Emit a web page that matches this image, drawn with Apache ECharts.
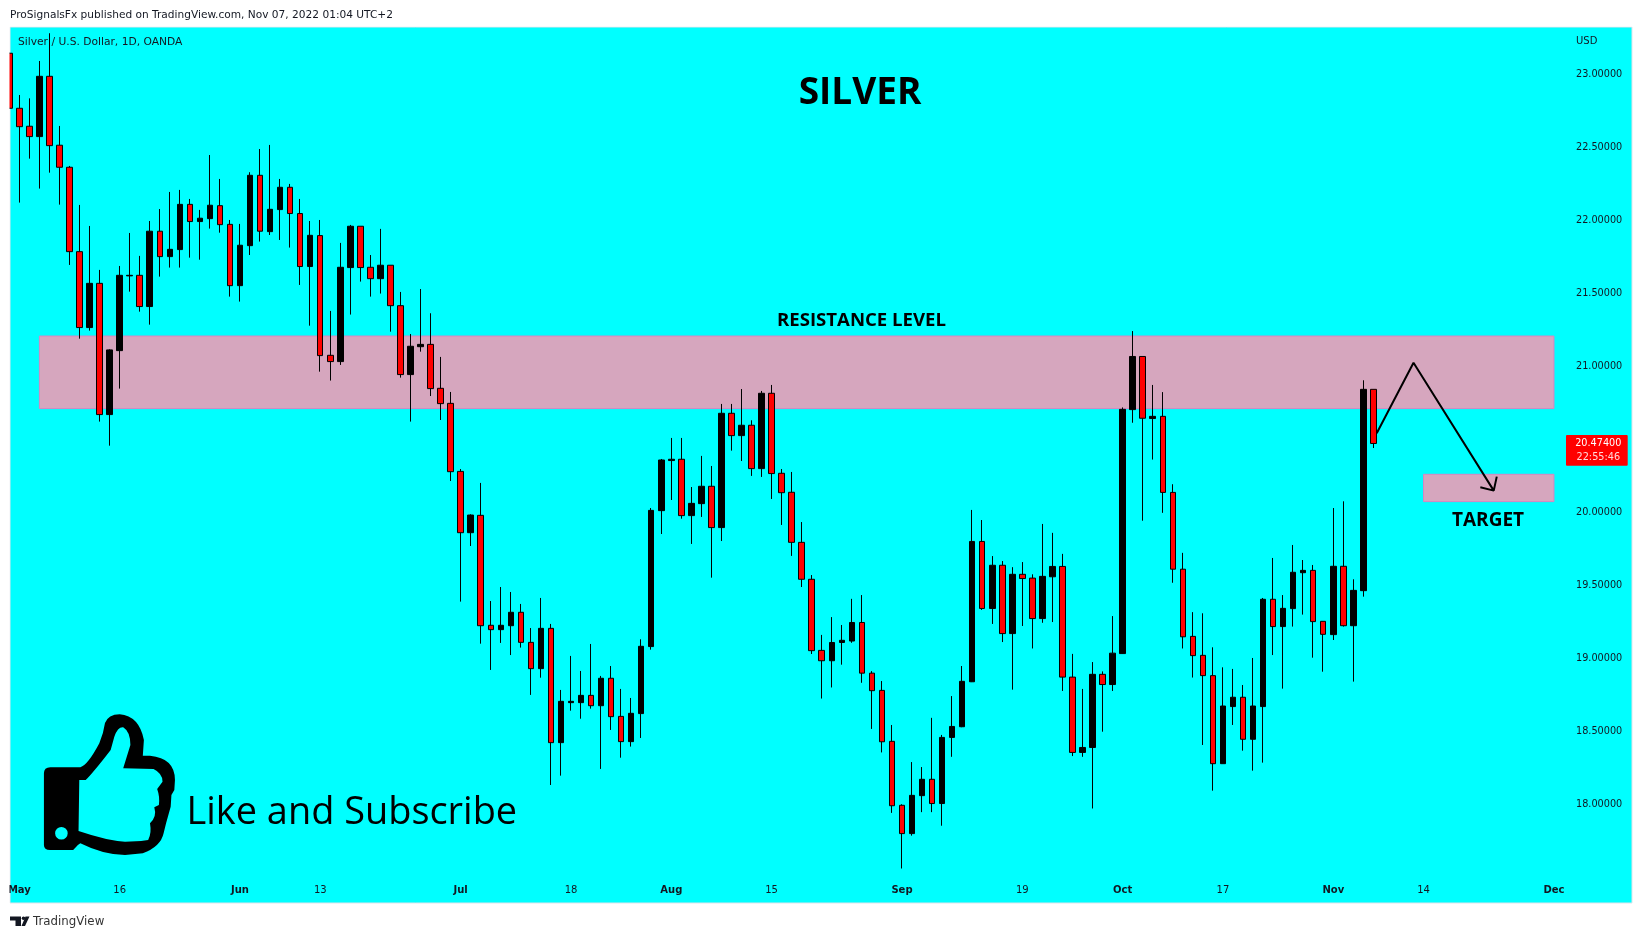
<!DOCTYPE html>
<html><head><meta charset="utf-8">
<style>html,body{margin:0;padding:0;background:#fff}#c{width:1642px;height:939px}</style>
<script src="https://cdn.jsdelivr.net/npm/echarts@6/dist/echarts.min.js"></script>
</head><body><div id="c"></div>
<script>
const opens = [23.147,22.770,22.647,22.576,22.989,22.517,22.366,21.788,21.268,21.571,
20.672,21.110,21.622,21.626,21.412,21.928,21.754,21.802,22.112,21.994,
22.014,22.103,21.975,21.555,21.829,22.311,21.925,22.076,22.229,22.049,
21.686,21.898,21.078,21.035,21.679,21.962,21.681,21.603,21.695,21.418,
20.946,21.137,21.153,20.852,20.749,20.283,19.863,19.982,19.229,19.199,
19.226,19.318,19.112,18.932,19.208,18.425,18.699,18.699,18.749,18.678,
18.866,18.605,18.432,18.624,19.083,20.014,20.357,20.366,19.980,20.062,
20.181,19.898,20.681,20.528,20.599,20.302,20.818,20.270,20.140,19.797,
19.544,19.057,18.986,19.111,19.121,19.248,18.901,18.783,18.434,17.996,
17.802,18.062,18.174,18.008,18.461,18.534,18.842,19.803,19.344,19.640,
19.172,19.578,19.552,19.275,19.561,19.632,18.874,18.358,18.392,18.893,
18.823,19.035,20.706,21.070,20.645,20.660,20.139,19.613,19.153,19.023,
18.884,18.281,18.672,18.736,18.448,18.672,19.407,19.220,19.343,19.589,
19.605,19.256,19.165,19.633,19.226,19.466,20.845];
const closes = [22.770,22.644,22.576,22.989,22.514,22.366,21.788,21.268,21.571,20.672,
21.115,21.626,21.626,21.412,21.928,21.754,21.804,22.112,21.994,22.017,
22.106,21.973,21.555,21.832,22.311,21.928,22.078,22.229,22.049,21.686,
21.900,21.076,21.035,21.681,21.962,21.679,21.603,21.695,21.418,20.946,
21.140,21.153,20.850,20.747,20.281,19.863,19.984,19.226,19.199,19.229,
19.318,19.112,18.932,19.208,18.425,18.708,18.708,18.749,18.678,18.866,
18.603,18.432,18.626,19.085,20.016,20.361,20.366,19.980,20.064,20.181,
19.898,20.681,20.528,20.599,20.302,20.818,20.268,20.137,19.797,19.544,
19.055,18.986,19.111,19.126,19.248,18.901,18.781,18.431,17.993,17.802,
18.064,18.174,18.008,18.461,18.536,18.845,19.803,19.344,19.640,19.172,
19.578,19.549,19.275,19.564,19.632,18.874,18.358,18.392,18.893,18.823,
19.038,20.708,21.070,20.647,20.660,20.139,19.613,19.150,19.021,18.884,
18.281,18.676,18.736,18.448,18.676,19.407,19.220,19.345,19.592,19.605,
19.254,19.167,19.633,19.226,19.468,20.845,20.474];
const highs = [23.150,22.861,22.838,23.094,23.284,22.649,22.375,22.108,21.964,21.663,
21.119,21.690,21.916,21.759,21.998,22.080,22.197,22.211,22.149,22.074,
22.450,22.286,22.005,21.978,22.332,22.491,22.519,22.286,22.252,22.149,
21.998,22.005,21.382,21.848,21.971,21.962,21.765,21.944,21.695,21.512,
21.224,21.532,21.366,21.067,20.827,20.299,19.989,20.204,19.395,19.491,
19.457,19.375,19.210,19.416,19.238,18.786,19.019,18.916,19.101,18.882,
18.950,18.793,18.731,19.133,20.032,20.368,20.512,20.512,20.176,20.389,
20.320,20.745,20.745,20.847,20.633,20.834,20.875,20.299,20.279,19.936,
19.573,19.163,19.285,19.231,19.410,19.436,18.915,18.847,18.546,18.003,
18.292,18.258,18.595,18.478,18.744,18.950,20.019,19.950,19.703,19.669,
19.627,19.662,19.578,19.923,19.862,19.718,19.033,18.793,18.977,18.913,
19.292,20.721,21.244,21.070,20.875,20.826,20.195,19.725,19.319,19.311,
19.078,18.941,18.930,18.820,19.005,19.416,19.690,19.436,19.779,19.676,
19.642,19.256,20.032,20.078,19.544,20.907,20.845];
const lows = [22.770,22.124,22.425,22.220,22.329,22.110,21.697,21.192,21.247,20.624,
20.459,20.850,21.514,21.377,21.288,21.617,21.679,21.679,21.747,21.733,
21.946,21.918,21.480,21.446,21.765,21.857,21.902,21.868,21.816,21.560,
21.281,20.966,20.905,21.012,21.357,21.583,21.480,21.501,21.240,20.925,
20.624,21.103,20.799,20.635,20.217,19.391,19.772,19.103,18.923,19.108,
19.025,19.076,18.752,18.870,18.135,18.199,18.644,18.589,18.658,18.245,
18.512,18.322,18.398,18.457,19.062,19.854,20.087,19.959,19.786,19.971,
19.555,19.806,20.425,20.354,20.252,20.245,20.094,19.916,19.704,19.491,
19.032,18.727,18.803,18.959,19.109,18.835,18.519,18.358,17.944,17.563,
17.788,17.949,17.949,17.856,18.328,18.531,18.840,19.334,19.238,19.114,
18.788,19.224,19.070,19.246,19.251,18.779,18.333,18.328,17.974,18.500,
18.779,19.033,20.616,19.945,20.364,19.999,19.520,19.070,18.871,18.409,
18.096,18.281,18.546,18.370,18.233,18.288,19.025,18.795,19.220,19.302,
19.007,18.911,19.128,19.220,18.843,19.425,20.443];

const totalSlots = 156;
const tickSlots  = [1,11,23,31,45,56,66,76,89,101,111,121,132,141,154];
const tickLabels = ['May','16','Jun','13','Jul','18','Aug','15','Sep','19','Oct','17','Nov','14','Dec'];
const monthLabels = ['May','Jun','Jul','Aug','Sep','Oct','Nov','Dec'];
const priceTicks = [18,18.5,19,19.5,20,21,21.5,22,22.5,23];

const resistanceZone = {from:3, to:154, top:21.21, bottom:20.713};
const targetZone     = {from:141, to:154, top:20.263, bottom:20.076};
const projectionX = [136.33,140,148,148.3,148,146.66];
const projectionY = [20.544,21.027,20.151,20.247,20.151,20.174];

const categories = Array.from({length:totalSlots},(_,i)=>{
  const k = tickSlots.indexOf(i); return k>=0 ? tickLabels[k] : '';
});
const candles = opens.map((o,i)=>[o,closes[i],lows[i],highs[i]]);
const projection = projectionX.map((x,i)=>[x,projectionY[i]]);

echarts.graphic.registerShape('thumbOuter', echarts.graphic.extendPath(
 'M41 773.3 Q41 767.3 47 767.3 L75 767.3 Q82 765 92.7 743.3 Q96.7 733 98 723 Q101 714.5 111.7 714.3 Q130 716 134.3 740 L133.3 755.7 L140 755.7 Q163.3 758 163.3 780 L162.7 790 L160 795 L159.3 806.7 L155 823.3 L152.7 833.3 Q150 846.7 133.3 853.3 L116.7 855 Q96.7 855 75 843.3 L72.7 845 L68.3 850 L46.7 850 Q41 850 41 845 Z',{}));
echarts.graphic.registerShape('thumbInner', echarts.graphic.extendPath(
 'M74 780 L80 780 Q86.7 773 103.3 750 L106.7 736.7 Q110 726.7 115 727.3 Q121.7 731.7 121.7 745 L115 768.3 L143.3 769 Q151.7 773.3 151.7 781.7 L146.7 789 Q149.3 796.7 148.3 805 L144 807.3 Q146.7 816.7 140 823.3 Q141.7 833.3 138.3 840 L131.7 841 L116.7 841.7 Q100 840.7 73.3 831 Z',{}));
echarts.graphic.registerShape('tvLogo', echarts.graphic.extendPath(
 'M10 916.5 L21 916.5 L21 926 L15.5 926 L15.5 920.5 L10 920.5 Z M25.5 916.5 L29.5 916.5 L25 926 L21.5 926 Z',{}));

const F = '"DejaVu Sans"';
const chart = echarts.init(document.getElementById('c'),null,{renderer:'canvas'});
const txt = (x,y,text,font,fill,align,extra)=>Object.assign({type:'text',z:60,silent:true,x,y,
  style:{text,font,fill:fill||'#131722',align:align||'left',verticalAlign:'middle'}},extra||{});
const sx = 1.0714;
chart.setOption({
  animation:false,
  backgroundColor:'#ffffff',
  grid:{left:4.3,top:1.7,width:1564.68,height:876},
  xAxis:[
    {type:'category',data:categories,boundaryGap:true,
     axisLine:{show:false},axisTick:{show:false},splitLine:{show:false},
     axisLabel:{interval:0,margin:8,hideOverlap:false,showMinLabel:true,showMaxLabel:true,
       fontFamily:F,fontSize:10,color:'#131722',
       formatter:v=>monthLabels.includes(v)?'{b|'+v+'}':v,
       rich:{b:{fontFamily:F,fontSize:10,fontWeight:'bold',color:'#131722'}}}},
    {type:'value',min:-0.5,max:totalSlots-0.5,show:false}
  ],
  yAxis:{type:'value',position:'right',min:17.5,max:23.5,interval:0.5,
    axisLine:{show:false},axisTick:{show:false},splitLine:{show:false},
    axisLabel:{margin:7,padding:[2,0,0,0],fontFamily:F,fontSize:9.7,color:'#131722',
      formatter:v=>priceTicks.includes(v)?v.toFixed(5):''}},
  series:[
    {type:'line',name:'zones',data:[],z:1,silent:true,
     markArea:{silent:true,
       itemStyle:{color:'#d6a6be',borderColor:'#d985c2',borderWidth:1},
       data:[
        [{xAxis:resistanceZone.from,yAxis:resistanceZone.top},{xAxis:resistanceZone.to,yAxis:resistanceZone.bottom}],
        [{xAxis:targetZone.from,yAxis:targetZone.top},{xAxis:targetZone.to,yAxis:targetZone.bottom}]
       ]}},
    {type:'candlestick',name:'Silver',data:candles,z:5,barWidth:6,silent:true,
     itemStyle:{color:'#000000',color0:'#ff0000',borderColor:'#000000',borderColor0:'#000000',borderWidth:1}},
    {type:'line',name:'projection',xAxisIndex:1,data:projection,z:6,symbol:'none',silent:true,
     lineStyle:{color:'#000000',width:2}}
  ],
  graphic:[
    {type:'rect',z:-1,silent:true,shape:{x:10,y:27,width:1622,height:876},style:{fill:'#00ffff',stroke:'#e0e3eb',lineWidth:1}},
    {type:'rect',z:50,silent:true,shape:{x:0,y:0,width:9.5,height:939},style:{fill:'#ffffff'}},
    {type:'rect',z:50,silent:true,shape:{x:0,y:0,width:1642,height:26.5},style:{fill:'#ffffff'}},
    txt(10,15,'ProSignalsFx published on TradingView.com, Nov 07, 2022 01:04 UTC+2','10.6px '+F),
    txt(18,42,'Silver / U.S. Dollar, 1D, OANDA','10.7px '+F),
    txt(1576,41,'USD','10px '+F),
    txt(860,93,'SILVER','bold 37px "Open Sans"','#000','center'),
    txt(861.5,321,'RESISTANCE LEVEL','bold 18.6px "Open Sans"','#000','center'),
    txt(1488,521,'TARGET','bold 19px "Open Sans"','#000','center'),
    txt(186.5,813,'Like and Subscribe','37.9px "Open Sans"','#000','left'),
    {type:'rect',z:60,silent:true,shape:{x:1566,y:435,width:61.7,height:30.7,r:1},style:{fill:'#ff0000'}},
    txt(1598.3,443.5,'20.47400','9.7px '+F,'#ffffff','center',{z:61}),
    txt(1598.3,457.5,'22:55:46','9.7px '+F,'#ffd9d9','center',{z:61}),
    {type:'thumbOuter',z:60,silent:true,scaleX:sx,style:{fill:'#000000'}},
    {type:'thumbInner',z:61,silent:true,scaleX:sx,style:{fill:'#00ffff'}},
    {type:'circle',z:61,silent:true,shape:{cx:61.4,cy:833.3,r:6.3},style:{fill:'#00ffff'}},
    {type:'tvLogo',z:60,silent:true,style:{fill:'#131722'}},
    {type:'circle',z:60,silent:true,shape:{cx:23.5,cy:918.3,r:1.8},style:{fill:'#131722'}},
    txt(33,922,'TradingView','11.8px '+F,'#333')
  ]
});
</script></body></html>
